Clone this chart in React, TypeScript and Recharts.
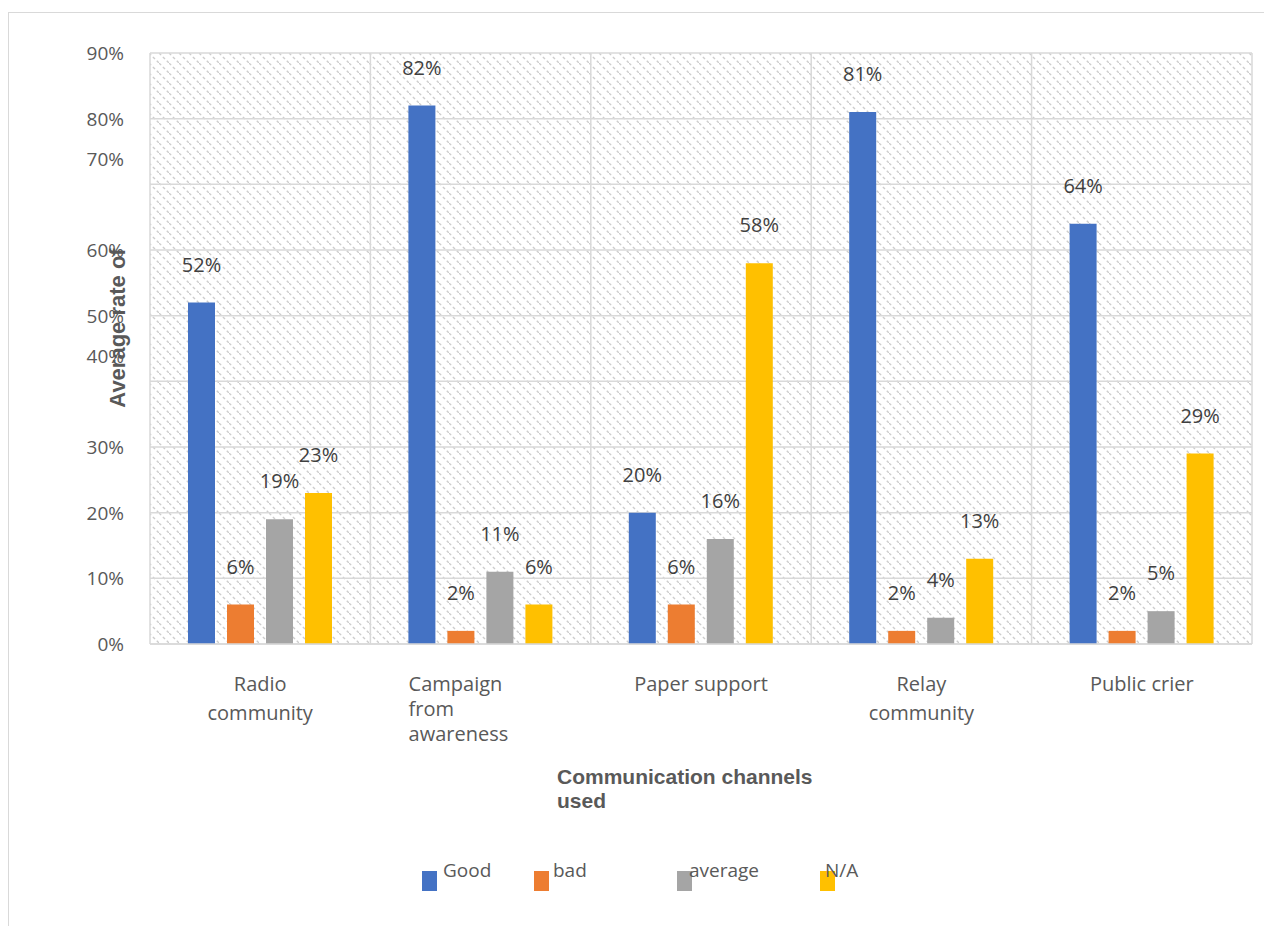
import React from 'react';
import { Bar, BarChart, CartesianGrid, LabelList, XAxis, YAxis } from 'recharts';

const channels = ['Radio\ncommunity', 'Campaign\nfrom\nawareness', 'Paper support', 'Relay\ncommunity', 'Public crier'];
const good = [52, 82, 20, 81, 64];
const bad = [6, 2, 6, 2, 2];
const average = [19, 11, 16, 4, 5];
const notApplicable = [23, 6, 58, 13, 29];
const yTicks = [0, 10, 20, 30, 40, 50, 60, 70, 80, 90];

const series = [
  { key: 'good', name: 'Good', color: '#4472C4', values: good },
  { key: 'bad', name: 'bad', color: '#ED7D31', values: bad },
  { key: 'average', name: 'average', color: '#A5A5A5', values: average },
  { key: 'na', name: 'N/A', color: '#FFC000', values: notApplicable },
];

const rows = channels.map((name, i) => {
  const row: Record<string, string | number> = { name };
  series.forEach((s) => (row[s.key] = s.values[i]));
  return row;
});

const TEXT = '#595959';
const GRID = '#d9d9d9';
const FONT = '"Open Sans", "DejaVu Sans", sans-serif';

// the 40% and 70% labels sit a little high on the axis
const tickNudge: Record<number, number> = { 40: -25, 70: -25 };

function YTick({ x, y, payload }: any) {
  const dy = tickNudge[payload.value] ?? 0;
  return (
    <text x={x - 26} y={y + 7 + dy} textAnchor="end" fontSize={19} fill={TEXT} fontFamily={FONT}>
      {payload.value}%
    </text>
  );
}

function XTick({ x, y, payload }: any) {
  const lines = String(payload.value).split('\n');
  // three-line names are set flush left, as in the source layout
  const left = lines.length > 2;
  const tx = left ? x - 72 : x;
  return (
    <text x={tx} y={y + 47} textAnchor={left ? 'start' : 'middle'} fontSize={20} fill={TEXT} fontFamily={FONT}>
      {lines.map((l, i) => (
        <tspan key={i} x={tx} dy={i === 0 ? 0 : left ? 25 : 29}>
          {l}
        </tspan>
      ))}
    </text>
  );
}

function ValueLabel({ x, y, width, value }: any) {
  return (
    <text x={x + width / 2} y={y - 31} textAnchor="middle" fontSize={20} fill="#404040" fontFamily={FONT}>
      {value}%
    </text>
  );
}

const legendWidths = [112, 143, 143, 80];
const legendGaps = [6, 4, -3, -10];

export default function App() {
  return (
    <div
      style={{
        position: 'relative',
        width: 1264,
        height: 914,
        marginTop: 4,
        borderTop: `1px solid ${GRID}`,
        borderLeft: `1px solid ${GRID}`,
        background: '#fff',
      }}
    >
      <svg width={0} height={0} style={{ position: 'absolute' }}>
        <defs>
          <pattern id="hatch" width={10} height={10} patternUnits="userSpaceOnUse">
            <rect width={10} height={10} fill="#ffffff" />
            <line x1={0} y1={0} x2={10} y2={10} stroke="#cdcdcd" strokeWidth={1.4} strokeDasharray="3 2.5" />
          </pattern>
        </defs>
      </svg>

      <BarChart
        width={1262}
        height={741}
        data={rows}
        margin={{ top: 40, right: 19, left: 81, bottom: 0 }}
        barSize={27}
        barGap={12}
      >
        <CartesianGrid
          stroke={GRID}
          strokeWidth={1.5}
          fill="url(#hatch)"
          fillOpacity={1}
          verticalCoordinatesGenerator={({ offset }: any) =>
            Array.from({ length: channels.length + 1 }, (_, i) => offset.left + (i * offset.width) / channels.length)
          }
        />
        <XAxis
          dataKey="name"
          height={110}
          tickSize={0}
          tickMargin={0}
          tick={<XTick />}
          axisLine={{ stroke: GRID, strokeWidth: 1.5 }}
          tickLine={false}
          interval={0}
        />
        <YAxis
          width={60}
          domain={[0, 90]}
          ticks={yTicks}
          tickSize={0}
          tickMargin={0}
          tick={<YTick />}
          axisLine={false}
          tickLine={false}
        />
        {series.map((s) => (
          <Bar key={s.key} dataKey={s.key} name={s.name} fill={s.color} isAnimationActive={false}>
            <LabelList dataKey={s.key} content={<ValueLabel />} />
          </Bar>
        ))}
      </BarChart>

      <div
        style={{
          position: 'absolute',
          left: 109,
          top: 315,
          transform: 'translate(-50%, -50%) rotate(-90deg)',
          whiteSpace: 'nowrap',
          fontFamily: '"Liberation Sans", Arial, sans-serif',
          fontWeight: 700,
          fontSize: 22,
          color: TEXT,
        }}
      >
        Average rate of
      </div>

      <div
        style={{
          position: 'absolute',
          left: 548,
          top: 752,
          fontFamily: '"Liberation Sans", Arial, sans-serif',
          fontWeight: 700,
          fontSize: 21,
          lineHeight: '24px',
          color: TEXT,
        }}
      >
        Communication channels
        <br />
        used
      </div>

      <div style={{ position: 'absolute', left: 413, top: 844, display: 'flex', fontFamily: FONT, fontSize: 19, color: TEXT }}>
        {series.map((s, i) => (
          <div key={s.key} style={{ width: legendWidths[i], display: 'flex', alignItems: 'flex-start' }}>
            <span style={{ display: 'inline-block', flex: 'none', width: 15, height: 20, background: s.color, marginTop: 14 }} />
            <span style={{ marginLeft: legendGaps[i], lineHeight: '26px' }}>{s.name}</span>
          </div>
        ))}
      </div>
    </div>
  );
}
